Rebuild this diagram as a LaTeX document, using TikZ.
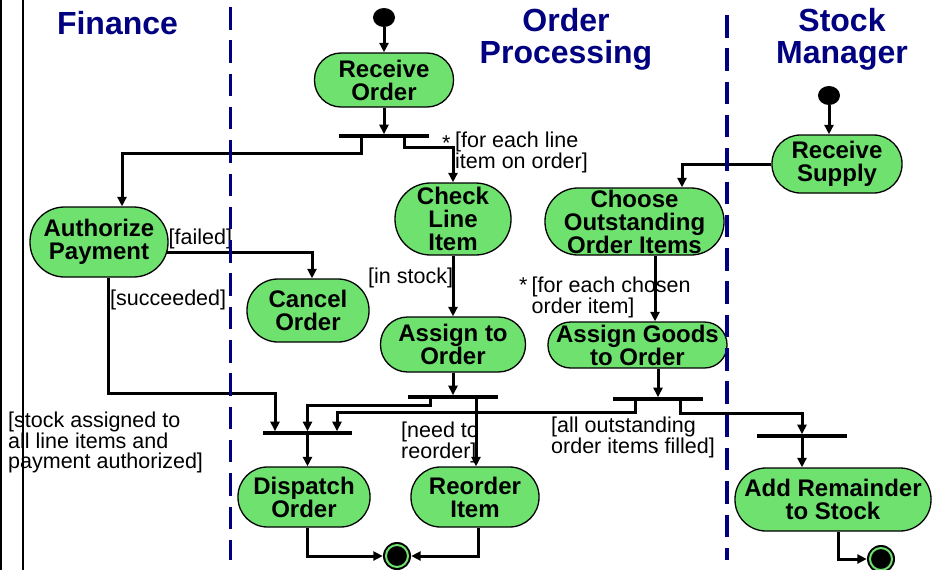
\documentclass[tikz,border=0pt]{standalone}
\usepackage{fontspec}
\setmainfont{Liberation Sans}
\usetikzlibrary{shapes.geometric,arrows.meta,calc}
\definecolor{actgreen}{RGB}{110,225,110}
\definecolor{lanenavy}{RGB}{0,0,128}

\begin{document}
\begin{tikzpicture}[x=1pt,y=-1pt,
  % activity: width, height, corner radius (half the height)
  act/.style n args={3}{rectangle, draw=black, line width=1.3pt, fill=actgreen, inner sep=0pt,
    minimum width=#1, minimum height=#2, rounded corners=#3,
    align=center, font=\bfseries\fontsize{24}{23}\selectfont},
  bar/.style={fill=black, inner sep=0pt, minimum height=3.2pt},
  flow/.style={line width=3pt, -{Triangle[length=9.5pt,width=9pt]}},
  guard/.style={inner sep=0pt, align=left, anchor=north west, font=\fontsize{21.5}{20}\selectfont},
  lane/.style={lanenavy, line width=3.5pt, dash pattern=on 22.5pt off 10.8pt},
  title/.style={text=lanenavy, font=\bfseries\fontsize{32}{32}\selectfont, align=center,
    inner sep=0pt, anchor=north},
  startnode/.style={ellipse, fill=black, minimum width=22pt, minimum height=19pt, inner sep=0pt},
  endnode/.style={circle, fill=black, minimum size=28pt, inner sep=0pt,
    path picture={\draw[actgreen, line width=2pt] (path picture bounding box.center) circle (11pt);}}
]
\useasboundingbox (0,0) rectangle (932,570);

% page frame lines on the left
\draw[line width=2pt] (1,0) -- (1,570);
\draw[line width=1.1pt] (23,0) -- (23,570);

% swimlane titles
\node[title] (t1) at (117.5,11.5) {Finance};
\node[title] (t2) at (566,8) {Order\\Processing};
\node[title] (t3) at (842,8) {Stock\\Manager};

% activities
\node[startnode] (st1) at (384,17.5) {};
\node[act={139pt}{54pt}{26.5pt}] (ro) at (384,80) {Receive\\Order};
\node[bar, minimum width=90pt] (f1) at (384,136) {};
\node[act={138pt}{70pt}{34.5pt}] (ap) at (99,242) {Authorize\\Payment};
\node[act={122pt}{63pt}{31pt}] (co) at (308,310.5) {Cancel\\Order};
\node[act={116pt}{72pt}{35.5pt}] (cli) at (453,219) {Check\\Line\\Item};
\node[act={145pt}{55pt}{27pt}] (ato) at (453,344.5) {Assign to\\Order};
\node[act={179pt}{67pt}{33pt}] (coi) at (634.5,221.5) {Choose\\Outstanding\\Order Items};
\node[act={179pt}{46pt}{22.5pt}] (agto) at (637.5,345) {Assign Goods\\to Order};
\node[startnode] (st2) at (829,95.5) {};
\node[act={130pt}{58pt}{28.5pt}] (rs) at (837,164) {Receive\\Supply};
\node[bar, minimum width=90pt] (f2) at (453,397) {};
\node[bar, minimum width=90pt] (f3) at (658,399) {};
\node[bar, minimum width=89pt] (j1) at (307.5,433) {};
\node[bar, minimum width=90pt] (j2) at (802,436) {};
\node[act={132pt}{60pt}{29.5pt}] (dsp) at (304,497) {Dispatch\\Order};
\node[act={128pt}{60pt}{29.5pt}] (roi) at (475,497) {Reorder\\Item};
\node[act={196pt}{63pt}{31pt}] (ars) at (833,499.5) {Add Remainder\\to Stock};
\node[endnode] (e1) at (397,556) {};
\node[endnode] (e2) at (881,559) {};

% guards
\node[guard] (g1s) at (442,136) {*};
\node[guard] (g1) at (455,131.5) {[for each line\\item on order]};
\node[guard] (g2) at (168.5,229) {[failed]};
\node[guard] (g3) at (110,290) {[succeeded]};
\node[guard] (g4) at (368,268) {[in stock]};
\node[guard] (g5s) at (519,278) {*};
\node[guard] (g5) at (531.5,277) {[for each chosen\\order item]};
\node[guard] (g6) at (8,412) {[stock assigned to\\all line items and\\payment authorized]};
\node[guard] (g7) at (401,422) {[need to\\reorder]};
\node[guard] (g8) at (551,417) {[all outstanding\\order items filled]};

% flows
\draw[flow] (st1) -- (ro);
\draw[flow] (ro) -- (f1);
\coordinate (f1l) at ([xshift=-23pt]f1.center);
\draw[flow] (f1l) -- ++(0,17) -| ([xshift=23pt]ap.north);
\coordinate (f1r) at ([xshift=20pt]f1.center);
\draw[flow] (f1r) -- ++(0,11) -| (cli.north);
\draw[flow] ([yshift=-10pt,xshift=-1.5pt]ap.east) -| ([xshift=4pt]co.north);
\draw[flow] ([xshift=9pt]ap.south) -- ++(0,116) -| ([xshift=-32.5pt]j1.north);
\draw[flow] (cli.south) -- (cli.south |- ato.north);
\draw[flow] (ato.south) -- (ato.south |- f2.north);
\coordinate (f2l) at ([xshift=-23pt]f2.center);
\draw[flow] (f2l) -- ++(0,8) -| (j1.north);
\coordinate (f2r) at ([xshift=23pt]f2.center);
\draw[flow] (f2r) -- (f2r |- roi.north);
\draw[flow] (st2) -- (st2 |- rs.north);
\draw[flow] (rs.west) -| ([xshift=47.5pt]coi.north);
\coordinate (coiS) at ([xshift=20.5pt]coi.south);
\draw[flow] (coiS) -- (coiS |- agto.north);
\coordinate (agtoS) at ([xshift=20.5pt]agto.south);
\draw[flow] (agtoS) -- (agtoS |- f3.north);
\coordinate (f3l) at ([xshift=-23pt]f3.center);
\draw[flow] (f3l) -- ++(0,13) -| ([xshift=29.5pt]j1.north);
\coordinate (f3r) at ([xshift=22pt]f3.center);
\draw[flow] (f3r) -- ++(0,14) -| (j2.north);
\draw[flow] (j1.south) -- (j1.south |- dsp.north);
\draw[flow] (j2.south) -- (j2.south |- ars.north);
\draw[flow] ([xshift=3pt]dsp.south) |- (e1.west);
\draw[flow] ([xshift=3pt]roi.south) |- (e1.east);
\draw[flow] ([xshift=5pt]ars.south) |- (e2.west);

% swimlane separators
\draw[lane] (230.5,7) -- (230.5,560);
\draw[lane] (727,15) -- (727,560);
\end{tikzpicture}
\end{document}
